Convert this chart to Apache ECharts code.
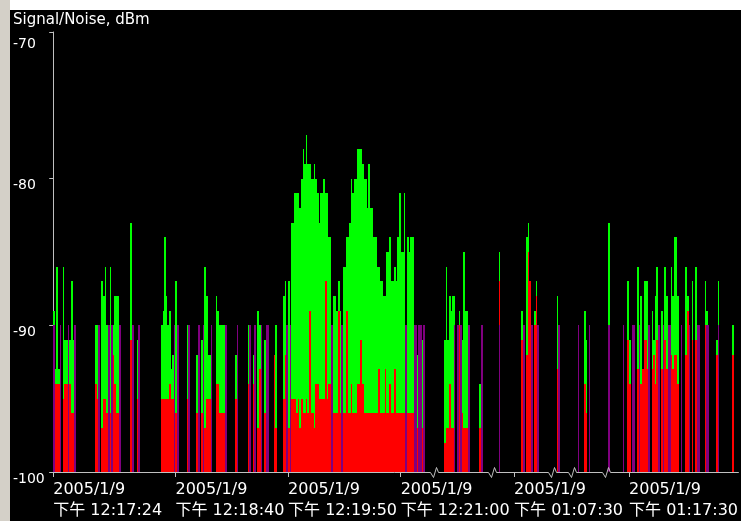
<!DOCTYPE html>
<html><head><meta charset="utf-8">
<script src="https://cdn.jsdelivr.net/npm/echarts@6/dist/echarts.min.js"></script>
<style>html,body{margin:0;padding:0;background:#fff;overflow:hidden}#c{width:741px;height:521px}</style>
</head><body><div id="c"></div>
<script>
// ---- axis labels ----
const titleText = 'Signal/Noise, dBm';
const tickTimes = [0, 76, 146, 216, 286.5, 358];          // display seconds
const tickDates = ['2005/1/9', '2005/1/9', '2005/1/9', '2005/1/9', '2005/1/9', '2005/1/9'];
const tickClock = ['下午 12:17:24', '下午 12:18:40', '下午 12:19:50', '下午 12:21:00', '下午 01:07:30', '下午 01:17:30'];
const breakTimes = [236.5, 272.7, 310.3, 322.7, 343.5];   // time gaps in the log
const yMin = -100, yMax = -70, yStep = 10;

// ---- samples: display second, signal dBm, noise dBm, lost flag ----
const times = [
  0,1,2,3,4,6,7,8,9,10,11,12,13,
  26,27,28,30,31,32,33,34,35,36,37,38,39,40,41,
  48,49,52,53,
  67,68,69,70,71,72,73,74,75,76,77,
  83,84,89,90,92,93,94,95,96,97,98,101,102,103,104,105,106,107,
  113,114,121,122,124,125,127,128,129,131,132,133,137,138,
  143,144,145,146,147,
  148,149,150,151,152,153,154,155,156,157,158,159,160,161,162,163,164,165,166,167,168,169,170,171,172,173,
  174,175,176,177,178,179,180,181,182,183,184,185,186,187,188,189,190,191,192,193,194,195,196,197,198,199,
  200,201,202,203,204,205,206,207,208,209,210,211,212,213,214,215,216,217,218,219,220,221,222,223,224,225,
  226,227,228,229,230,
  243,244,245,246,247,248,249,251,252,253,254,255,256,257,258,265,266,
  277,291,292,294,295,296,297,299,300,301,313,314,326,330,331,333,345,
  354,357,358,360,361,363,364,365,366,367,368,369,370,372,373,374,375,376,378,379,380,381,382,383,
  384,385,386,387,388,390,393,394,395,397,399,400,401,405,406,407,412,413,422
];
const signal = [
  -89,-93,-86,-93,null,-86,-91,-91,null,-91,-87,-91,null,
  -90,-90,null,-87,-88,-86,-90,null,-86,null,-90,-88,-88,-88,null,
  -83,null,-91,null,
  -90,-89,-84,-88,-90,-89,-93,-92,null,-87,null,
  -90,null,-92,null,-91,null,-86,-88,-92,-92,null,-88,-89,-90,-90,-90,-90,null,
  -92,null,-90,null,-92,null,-89,-90,null,-91,null,null,-92,-90,
  -88,-87,null,-87,null,
  -83,-83,-81,-81,-81,-82,-80,-78,-79,-77,-79,-79,-80,-80,-79,-80,-81,-83,-81,-81,-80,-81,-81,-84,-84,null,
  -88,-88,-89,-87,-89,null,-86,-86,-84,-84,-83,-80,-81,-80,-80,-78,-78,-78,-79,-80,-80,-82,-79,-82,-82,-84,
  -84,-86,-86,-87,-87,-88,-88,-85,-85,-84,-87,-87,-86,-87,-84,-81,-85,-85,-81,null,-84,-85,-84,-84,null,null,
  -92,null,null,-91,null,
  -91,-86,-91,-88,-89,-88,-88,null,-89,null,-91,-85,-89,-89,null,-94,null,
  -85,-89,null,-84,-83,-87,null,-89,-87,null,-88,null,null,-89,-91,null,-83,
  null,-87,-91,null,null,-86,null,-88,-93,-87,-87,-87,null,-89,-91,-88,-86,null,-89,null,-86,-88,null,null,
  -86,-88,-84,-84,-88,null,-86,-88,null,-87,-86,null,null,-87,-89,null,-91,-87,-90
];
const noise = [
  null,-94,-94,-94,null,-95,-94,-94,null,-94,-96,-96,null,
  -94,-95,null,-97,-95,-95,-96,null,-96,null,-92,-94,-96,-96,null,
  -91,null,-95,null,
  -95,-95,-95,-95,-95,-94,-95,-95,null,-96,null,
  -95,null,-96,null,-96,null,-97,-95,-95,-95,null,-94,-94,-96,-96,-96,-96,null,
  -95,null,-94,null,-94,null,-97,-93,null,-96,null,null,-92,-97,
  -95,-92,null,-97,null,
  -95,-95,-95,-96,-95,-97,-95,-96,-96,-95,-96,-89,-96,-96,-97,-94,-94,-95,-95,-95,-95,-87,-95,-94,-94,null,
  -96,-96,-96,-89,-96,null,-96,-96,-89,-96,-96,-94,-96,-96,-96,-94,-94,-91,-94,-96,-96,-96,-96,-96,-96,-96,
  -96,-96,-93,-96,-96,-96,-93,-96,-96,-94,-96,-96,-93,-96,-96,-96,-96,-96,-96,null,-96,-96,-96,-96,null,null,
  -97,null,null,-97,null,
  -98,-97,-97,-94,-97,-97,null,null,-90,null,-96,-97,-97,-97,null,-97,null,
  -87,-91,null,-92,-85,-87,null,-90,-88,null,-93,null,null,-94,-96,null,null,
  null,-91,-94,null,null,-93,null,-94,-93,-91,-91,-93,null,-93,-92,-94,-91,null,-93,null,-91,-93,null,null,
  -92,-93,-92,-92,-94,null,-92,-89,null,-91,-91,null,null,-90,null,null,-92,null,-92
];
const lost = [
  1,0,0,0,1,0,0,0,1,0,0,0,1,
  0,0,1,0,0,0,0,1,0,1,0,0,0,0,1,
  0,1,0,1,
  0,0,0,0,0,0,0,0,1,0,1,
  0,1,0,1,0,1,0,0,0,0,1,0,0,0,0,0,0,1,
  0,1,0,1,0,1,0,0,1,0,1,1,0,0,
  0,0,1,0,1,
  0,0,0,0,0,0,0,0,0,0,0,0,0,0,0,0,0,0,0,0,0,0,0,0,0,1,
  0,0,0,0,0,1,0,0,0,0,0,0,0,0,0,0,0,0,0,0,0,0,0,0,0,0,
  0,0,0,0,0,0,0,0,0,0,0,0,0,0,0,0,0,0,0,1,0,0,0,0,1,1,
  0,1,1,0,1,
  0,0,0,0,0,0,1,1,0,1,0,0,0,0,1,0,1,
  1,0,1,0,0,0,1,0,0,1,0,1,1,0,0,1,1,
  1,0,0,1,1,0,1,0,0,0,0,0,1,0,0,0,0,1,0,1,0,0,1,1,
  0,0,0,0,0,1,0,0,1,0,0,1,1,0,1,1,0,1,0
];

const GREEN = '#00ff00', RED = '#ff0000', PURPLE = '#800080', AXIS = '#c0c0c0', TEXT = '#ffffff';

function renderSample(params, api) {
  const i = params.dataIndex;
  const t = api.value(0);
  const base = api.coord([t, yMin]);
  const xa = Math.round(base[0]);
  const xb = Math.round(api.coord([t + 1, yMin])[0]);
  const w = Math.max(1, xb - xa);
  const yb = Math.round(base[1]);
  const kids = [];
  const bar = (v, c) => {
    const y = Math.round(api.coord([t, v])[1]);
    kids.push({ type: 'rect', shape: { x: xa, y: y, width: w, height: yb - y }, style: { fill: c } });
  };
  if (signal[i] != null) bar(signal[i], GREEN);
  if (noise[i] != null) bar(noise[i], RED);
  if (lost[i]) bar(-90, PURPLE);
  return { type: 'group', children: kids };
}

function renderBreak(params, api) {
  const p = api.coord([api.value(0), yMin]);
  const x = Math.round(p[0]) + 0.5, y = Math.round(p[1]) + 0.5;
  return { type: 'group', children: [
    { type: 'rect', shape: { x: x - 5, y: y - 1, width: 10, height: 2 }, style: { fill: '#000' } },
    { type: 'polyline', shape: { points: [[x - 6, y], [x - 4, y], [x - 1, y + 5], [x + 2, y - 5], [x + 4, y], [x + 6, y]] },
      style: { stroke: AXIS, lineWidth: 1, fill: null } }
  ]};
}

const chart = echarts.init(document.getElementById('c'), null, { renderer: 'canvas' });
chart.setOption({
  backgroundColor: '#000',
  animation: false,
  graphic: [
    { type: 'rect', left: 0, top: 0, shape: { width: 741, height: 10 }, style: { fill: '#ffffff' }, z: 100 },
    { type: 'rect', left: 0, top: 0, shape: { width: 10, height: 521 }, style: { fill: '#d4d0c8' }, z: 100 },
    { type: 'text', left: 13, top: 13, style: { text: titleText, fill: TEXT, font: '15px "DejaVu Sans"' }, z: 100 }
  ],
  grid: { left: 50, right: 0, top: 32, bottom: 45 },
  xAxis: {
    type: 'value', min: -2, max: 426,
    splitLine: { show: false },
    axisLine: { lineStyle: { color: AXIS, width: 1 } },
    axisTick: { customValues: tickTimes, length: 5, lineStyle: { color: AXIS } },
    axisLabel: {
      customValues: tickTimes, hideOverlap: false,
      color: TEXT, fontSize: 16, fontFamily: '"DejaVu Sans", "Noto Sans CJK SC"',
      align: 'left', verticalAlign: 'top', lineHeight: 21, margin: 7,
      formatter: v => { const k = tickTimes.indexOf(v); return k < 0 ? '' : tickDates[k] + '\n' + tickClock[k]; }
    }
  },
  yAxis: {
    type: 'value', min: yMin, max: yMax, interval: yStep,
    splitLine: { show: false },
    axisLine: { show: true, lineStyle: { color: AXIS, width: 1 } },
    axisTick: { show: true, length: 4, lineStyle: { color: AXIS } },
    axisLabel: {
      color: TEXT, fontSize: 14, fontFamily: '"DejaVu Sans"',
      align: 'left', verticalAlign: 'top', margin: 37,
      formatter: v => v === yMax ? '{t|' + v + '}' : '{n|' + v + '}',
      rich: { t: { padding: [5, 0, 0, 0], color: TEXT, fontSize: 14 }, n: { color: TEXT, fontSize: 14 } }
    }
  },
  series: [
    { type: 'custom', renderItem: renderSample, data: times.map(t => [t, yMin]), encode: { x: 0, y: 1 }, z: 2 },
    { type: 'custom', renderItem: renderBreak, data: breakTimes.map(t => [t, yMin]), encode: { x: 0, y: 1 }, z: 5, clip: false }
  ]
});
</script></body></html>
